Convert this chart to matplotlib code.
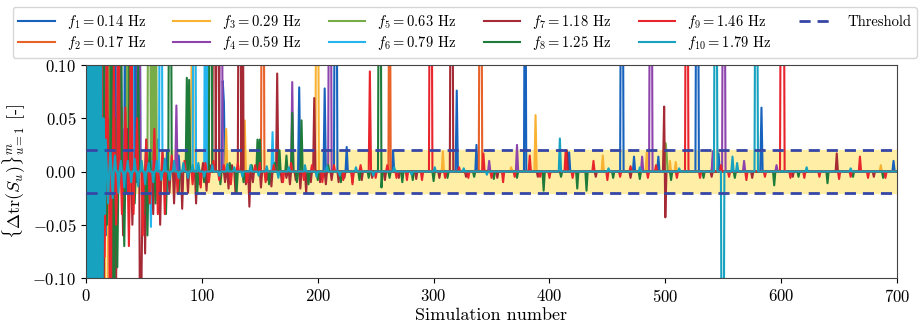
import numpy as np
import matplotlib
matplotlib.use("Agg")
import matplotlib.pyplot as plt

plt.rcParams["font.family"] = "serif"
plt.rcParams["font.serif"] = ["cmr10", "DejaVu Serif"]
plt.rcParams["mathtext.fontset"] = "cm"
plt.rcParams["axes.formatter.use_mathtext"] = True

# Data: (simulation number, delta trace) for the visible
# excursions of each frequency; every other simulation sits at zero.
n_sims = 700
freqs = [0.14, 0.17, 0.29, 0.59, 0.63, 0.79, 1.18, 1.25, 1.46, 1.79]
colors = ["#1762BD", "#E8622A", "#F9B233", "#8E44AD", "#77AC48",
          "#24B4EE", "#A52A35", "#1E7B3A", "#E8252D", "#17A2C0"]
threshold = 0.02

f1_pts = [(2, 0.3), (3, -0.3), (5, 0.2), (6, -0.2), (8, 0.3), (9, -0.15), (12, 0.25), (13, -0.1),
          (16, 0.3), (17, -0.06), (20, 0.15), (21, -0.03), (25, 0.3), (26, -0.02), (30, 0.12),
          (34, 0.3), (35, -0.02), (43, 0.3), (44, -0.01), (46, 0.3), (52, 0.03), (58, 0.02),
          (62, 0.03), (70, 0.02), (80, 0.015), (118, 0.085), (119, 0.065), (184, 0.079),
          (206, 0.078), (215, 0.3), (216, 0.3), (225, 0.023), (265, 0.02), (320, 0.076),
          (337, 0.025), (379, 0.3), (417, 0.018), (462, 0.3), (463, 0.3), (473, 0.014),
          (494, 0.014), (527, 0.3), (528, 0.3), (541, 0.012), (546, 0.017), (583, 0.06),
          (697, 0.01)]
f2_pts = [(1, 0.3), (2, -0.3), (4, 0.3), (7, -0.2), (10, 0.3), (11, -0.1), (14, 0.2), (19, 0.1),
          (23, 0.3), (24, -0.04), (31, 0.06), (38, 0.02), (152, 0.3), (153, 0.3), (262, 0.3),
          (340, 0.3), (341, 0.3)]
f3_pts = [(2, -0.3), (3, -0.3), (6, 0.3), (9, -0.2), (13, 0.15), (17, -0.3), (18, -0.3),
          (21, 0.1), (27, -0.04), (31, 0.02), (40, 0.03), (48, 0.01), (62, 0.02), (91, 0.088),
          (92, 0.3), (121, 0.04), (137, 0.048), (199, 0.3), (200, 0.3), (308, 0.019),
          (367, 0.004), (388, 0.053), (446, 0.015), (484, 0.018), (504, 0.01), (509, 0.009),
          (686, 0.006)]
f4_pts = [(4, 0.2), (7, -0.15), (11, 0.3), (15, -0.05), (22, 0.1), (33, 0.04), (45, 0.3),
          (46, 0.3), (60, 0.02), (78, 0.062), (116, 0.3), (117, 0.3), (178, 0.084), (210, 0.3),
          (211, 0.3), (348, 0.01), (372, 0.025), (480, 0.014), (487, 0.3), (488, 0.3),
          (541, 0.019), (550, 0.3), (551, 0.3), (568, 0.01), (596, 0.006)]
f5_pts = [(3, 0.2), (5, -0.1), (9, 0.3), (14, -0.08), (20, 0.3), (28, 0.02), (36, 0.3),
          (37, 0.01), (54, 0.3), (55, 0.3), (57, 0.3), (60, 0.3), (61, 0.02), (500, 0.027),
          (501, 0.02)]
f6_pts = [(1, 0.3), (4, -0.3), (8, 0.25), (12, -0.3), (16, 0.1), (22, -0.05), (30, 0.02),
          (40, 0.3), (41, -0.02), (56, -0.052), (57, 0.01), (64, 0.3), (65, 0.3), (70, -0.02),
          (93, 0.3), (94, 0.3), (103, 0.3), (105, 0.3), (161, 0.037)]
f7_pts = [(3, 0.1), (6, -0.3), (10, 0.05), (14, 0.3), (15, -0.1), (19, 0.05), (26, -0.1),
          (29, 0.3), (32, -0.06), (36, 0.04), (40, -0.05), (43, 0.02), (47, -0.3), (48, -0.09),
          (51, -0.077), (53, 0.01), (58, -0.04), (64, -0.05), (67, 0.01), (72, -0.02),
          (76, -0.03), (83, -0.035), (88, -0.02), (95, -0.03), (98, -0.012), (101, 0.008),
          (104, -0.018), (107, 0.006), (110, 0.3), (111, 0.3), (113, 0.3), (114, 0.3),
          (120, -0.01), (123, -0.016), (126, 0.006), (129, -0.02), (132, 0.3), (133, 0.3),
          (135, 0.3), (138, -0.012), (141, -0.033), (144, -0.01), (147, 0.005), (151, -0.015),
          (156, -0.008), (160, -0.014), (165, 0.092), (169, -0.01), (173, -0.006),
          (176, -0.012), (181, -0.008), (185, -0.016), (190, -0.02), (194, -0.01),
          (197, 0.069), (202, -0.01), (207, -0.012), (212, -0.008), (218, -0.01),
          (223, -0.006), (230, -0.01), (238, -0.008), (247, -0.006), (258, -0.008),
          (270, -0.006), (285, -0.007), (305, -0.006), (315, 0.3), (316, 0.3), (328, -0.005),
          (355, -0.006), (390, -0.005), (415, 0.02), (440, -0.005), (470, -0.006),
          (499, 0.061), (500, -0.043), (540, -0.005), (575, -0.006), (610, -0.005),
          (648, 0.017), (680, -0.005)]
f8_pts = [(2, 0.3), (5, -0.2), (8, 0.3), (11, -0.1), (15, 0.3), (18, -0.05), (22, 0.3),
          (24, -0.3), (25, 0.05), (27, -0.09), (30, 0.3), (33, -0.07), (38, 0.3), (42, -0.03),
          (45, 0.1), (50, -0.04), (53, -0.06), (55, 0.02), (60, -0.03), (69, -0.04), (72, 0.3),
          (73, 0.3), (80, -0.02), (87, 0.088), (89, 0.086), (96, -0.02), (102, -0.01),
          (107, 0.3), (108, 0.3), (116, -0.012), (124, 0.008), (130, -0.02), (136, -0.01),
          (143, 0.006), (148, 0.03), (150, 0.03), (158, -0.012), (163, 0.008), (167, 0.02),
          (173, 0.015), (178, 0.055), (182, -0.01), (186, 0.048), (192, -0.012), (200, -0.008),
          (209, 0.006), (220, -0.01), (236, -0.008), (244, -0.006), (253, 0.3), (254, 0.3),
          (255, -0.015), (262, -0.006), (273, -0.01), (282, -0.008), (300, -0.009),
          (312, -0.006), (335, -0.005), (352, -0.007), (372, -0.006), (395, -0.018),
          (410, -0.005), (424, -0.016), (432, -0.018), (455, -0.006), (478, -0.007),
          (505, -0.008), (533, -0.006), (560, -0.006), (594, -0.013), (615, -0.005),
          (640, -0.011), (662, -0.005), (688, -0.006)]
f9_pts = [(1, -0.2), (3, 0.3), (5, -0.3), (7, 0.15), (10, -0.3), (13, 0.3), (16, -0.08),
          (18, 0.2), (21, -0.3), (24, 0.1), (26, -0.05), (28, 0.3), (31, -0.04), (34, 0.06),
          (37, -0.07), (39, 0.3), (41, -0.04), (44, 0.05), (49, -0.06), (52, 0.03), (55, -0.03),
          (59, 0.04), (62, -0.04), (66, 0.02), (68, -0.04), (74, 0.015), (79, -0.02),
          (85, 0.01), (92, -0.012), (99, -0.015), (103, 0.008), (106, -0.01), (110, 0.01),
          (115, -0.008), (119, 0.006), (125, -0.012), (131, 0.008), (139, -0.01), (146, 0.006),
          (150, 0.008), (155, -0.01), (162, 0.006), (170, -0.01), (177, 0.008), (188, -0.008),
          (195, 0.006), (204, -0.01), (214, 0.006), (222, -0.008), (230, -0.012), (237, 0.006),
          (245, 0.094), (250, -0.006), (260, 0.006), (268, -0.006), (277, -0.008),
          (290, -0.008), (297, 0.3), (298, 0.3), (310, -0.006), (322, 0.004), (330, -0.006),
          (343, 0.017), (350, -0.006), (360, -0.01), (370, -0.005), (383, 0.015),
          (392, -0.005), (400, -0.006), (414, 0.02), (420, -0.006), (438, 0.01),
          (450, -0.008), (461, -0.005), (470, 0.005), (485, -0.006), (492, 0.006),
          (510, -0.006), (518, 0.3), (519, 0.3), (530, -0.006), (548, 0.006), (555, -0.005),
          (570, -0.008), (586, -0.005), (600, 0.3), (601, 0.3), (602, 0.3), (608, -0.006),
          (620, -0.006), (633, -0.005), (650, -0.007), (660, -0.005), (668, 0.014),
          (675, -0.006), (690, -0.006)]
f10_pts = [(1, 0.3), (2, -0.3), (3, 0.3), (4, -0.3), (5, 0.3), (6, -0.3), (7, 0.3), (8, -0.3),
           (9, 0.3), (10, -0.3), (11, 0.2), (12, -0.3), (13, 0.1), (14, -0.2), (15, 0.05),
           (16, -0.04), (17, 0.03), (19, -0.03), (21, 0.02), (23, -0.025), (25, 0.015),
           (28, -0.02), (30, 0.01), (33, -0.015), (36, 0.01), (39, -0.01), (42, 0.012),
           (45, -0.014), (48, 0.01), (51, -0.012), (54, 0.008), (58, -0.01), (61, 0.01),
           (65, -0.008), (68, 0.012), (72, -0.008), (76, 0.01), (80, -0.006), (84, 0.008),
           (88, -0.006), (92, 0.006), (97, 0.008), (102, -0.005), (109, 0.006), (115, -0.004),
           (122, 0.007), (128, 0.004), (135, -0.005), (142, 0.006), (149, -0.004),
           (156, 0.005), (166, -0.006), (175, 0.004), (189, 0.006), (199, -0.005),
           (208, 0.005), (219, -0.004), (233, 0.004), (248, -0.004), (266, 0.004),
           (281, -0.003), (301, 0.004), (326, 0.003), (346, -0.003), (409, 0.031),
           (451, 0.003), (478, 0.004), (512, 0.003), (543, 0.3), (544, 0.3), (549, -0.3),
           (550, -0.3), (558, 0.014), (562, 0.008), (578, 0.3), (579, 0.3), (622, 0.004),
           (660, 0.003)]

all_pts = [f1_pts, f2_pts, f3_pts, f4_pts, f5_pts, f6_pts, f7_pts, f8_pts, f9_pts, f10_pts]

sims = np.arange(0, n_sims + 1)

fig = plt.figure(figsize=(9.22, 3.28), dpi=100)
ax = fig.add_axes([0.0933, 0.1524, 0.8796, 0.6494])

ax.fill_between([0, n_sims], -threshold, threshold, color="#FFEFA6", zorder=0)

handles = []
for i, pts in enumerate(all_pts):
    y = np.zeros(len(sims))
    for s, v in pts:
        y[s] = v
    h, = ax.plot(sims[1:], y[1:], color=colors[i], lw=1.5,
                 label=r"$f_{%d} = %.2f$ Hz" % (i + 1, freqs[i]))
    handles.append(h)

th, = ax.plot([0, n_sims], [threshold, threshold], "--", color="#3646A6", lw=2,
              dashes=(4, 2.5), label="Threshold", zorder=5)
ax.plot([0, n_sims], [-threshold, -threshold], "--", color="#3646A6", lw=2,
        dashes=(4, 2.5), zorder=5)
handles.append(th)

ax.set_xlim(0, n_sims)
ax.set_ylim(-0.1, 0.1)
ax.set_yticks([-0.1, -0.05, 0, 0.05, 0.1])
ax.set_yticklabels([r"$-0.10$", r"$-0.05$", r"$0.00$", r"$0.05$", r"$0.10$"])
ax.tick_params(labelsize=12)
ax.set_xlabel("Simulation number", fontsize=13, labelpad=2)
ax.set_ylabel(r"$\{\Delta\mathrm{tr}(S_u)\}_{u=1}^{m}$ [-]", fontsize=13)
for sp in ax.spines.values():
    sp.set_color("#444444")

fig.legend(handles=handles, loc="upper center", bbox_to_anchor=(0.504, 1.0),
           ncol=6, fontsize=10.5, frameon=True, handlelength=2.5,
           columnspacing=1.9, borderpad=0.4, labelspacing=0.2)

fig.savefig("out.png", dpi=100)
